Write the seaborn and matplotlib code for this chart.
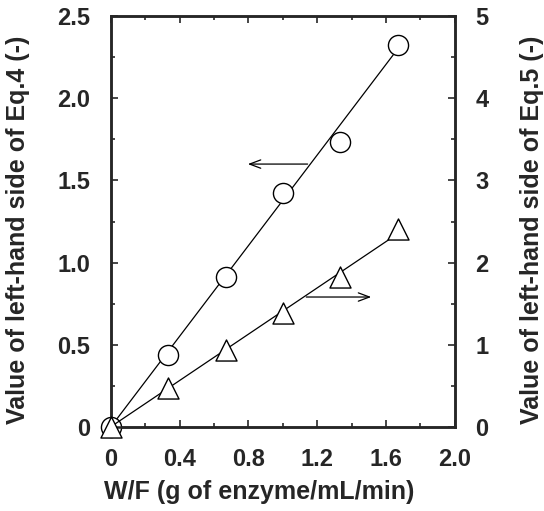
"""
Recreate the Eq.4 / Eq.5 left-hand side vs W/F plot (dual y axes).
"""

import matplotlib
matplotlib.use('Agg')
import matplotlib.pyplot as plt
import seaborn as sns
import pandas as pd
from matplotlib.ticker import MultipleLocator

# data
wf = [0.0, 0.333, 0.667, 1.0, 1.333, 1.667]
eq4 = [0.0, 0.437, 0.915, 1.423, 1.734, 2.327]
eq5 = [0.0, 0.47, 0.94, 1.39, 1.83, 2.41]

# fitted straight lines (through origin)
fit_x = [0.0, 1.667]
fit_eq4 = [0.0, 2.30]
fit_eq5 = [0.0, 2.35]

x_ticks = [0, 0.4, 0.8, 1.2, 1.6, 2.0]
x_tick_labels = ['0', '0.4', '0.8', '1.2', '1.6', '2.0']
y_ticks = [0, 0.5, 1.0, 1.5, 2.0, 2.5]
y_tick_labels = ['0', '0.5', '1.0', '1.5', '2.0', '2.5']
y2_ticks = [0, 1, 2, 3, 4, 5]
y2_tick_labels = ['0', '1', '2', '3', '4', '5']

sns.set_style('ticks')
plt.rcParams['font.family'] = ['Liberation Sans', 'DejaVu Sans']
plt.rcParams['font.weight'] = 'bold'

df = pd.DataFrame({'wf': wf, 'eq4': eq4, 'eq5': eq5})
fit_df = pd.DataFrame({'x': fit_x, 'eq4': fit_eq4, 'eq5': fit_eq5})

fig = plt.figure(figsize=(5.44, 5.11), dpi=100)
ax = fig.add_axes([0.204, 0.165, 0.632, 0.803])
ax2 = ax.twinx()

sns.lineplot(data=fit_df, x='x', y='eq4', ax=ax, color='black', lw=0.9)
sns.lineplot(data=fit_df, x='x', y='eq5', ax=ax2, color='black', lw=0.9)
sns.scatterplot(data=df, x='wf', y='eq4', ax=ax, marker='o', s=210,
                facecolor='white', edgecolor='black', linewidth=1.0,
                zorder=5, clip_on=False)
sns.scatterplot(data=df, x='wf', y='eq5', ax=ax2, marker='^', s=230,
                facecolor='white', edgecolor='black', linewidth=1.0,
                zorder=5, clip_on=False)

ax.set_xlim(0, 2.0)
ax.set_ylim(0, 2.5)
ax2.set_ylim(0, 5)

ax.set_xticks(x_ticks)
ax.set_xticklabels(x_tick_labels)
ax.set_yticks(y_ticks)
ax.set_yticklabels(y_tick_labels)
ax2.set_yticks(y2_ticks)
ax2.set_yticklabels(y2_tick_labels)
ax.xaxis.set_minor_locator(MultipleLocator(0.2))
ax.yaxis.set_minor_locator(MultipleLocator(0.25))
ax2.yaxis.set_minor_locator(MultipleLocator(0.5))

for a in (ax, ax2):
    a.tick_params(axis='both', which='both', direction='in',
                  labelsize=17, width=1.2, pad=15)
    a.tick_params(which='major', length=5)
    a.tick_params(which='minor', length=3)
    for s in a.spines.values():
        s.set_visible(True)
        s.set_linewidth(1.8)
ax.tick_params(axis='x', which='both', top=True)
ax.tick_params(axis='y', which='both', right=False)

ax.set_xlabel('W/F (g of enzyme/mL/min)', fontsize=18, fontweight='bold')
ax.set_ylabel('Value of left-hand side of Eq.4 (-)', fontsize=18,
              fontweight='bold')
ax2.set_ylabel('Value of left-hand side of Eq.5 (-)', fontsize=18,
               fontweight='bold')
ax.xaxis.set_label_coords(0.43, -0.13)
ax.yaxis.set_label_coords(-0.235, 0.48)
ax2.yaxis.set_label_coords(1.19, 0.48)

arrow = dict(arrowstyle='->,head_length=0.8,head_width=0.3', lw=0.9, color='black')
ax.annotate('', xy=(0.78, 1.6), xytext=(1.16, 1.6), arrowprops=arrow)
ax2.annotate('', xy=(1.53, 1.58), xytext=(1.12, 1.58), arrowprops=arrow)

fig.savefig('out.png', dpi=100)
plt.close(fig)
